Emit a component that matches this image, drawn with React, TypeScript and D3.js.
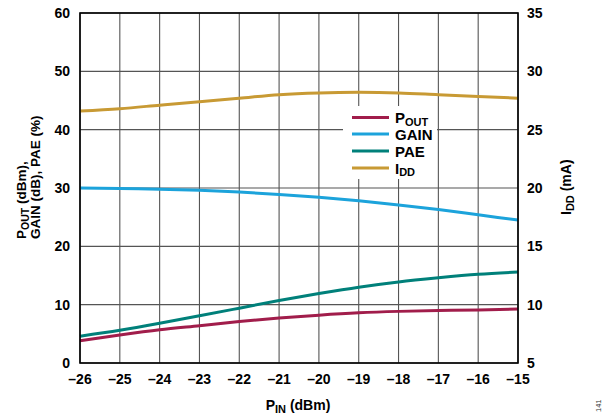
import React from "react";
import * as d3 from "d3";

const pin = [-26, -25, -24, -23, -22, -21, -20, -19, -18, -17, -16, -15];
const pout = [3.8, 4.8, 5.7, 6.4, 7.1, 7.7, 8.2, 8.6, 8.85, 9.0, 9.1, 9.25];
const gain = [30.0, 29.9, 29.8, 29.6, 29.3, 28.9, 28.4, 27.8, 27.1, 26.3, 25.4, 24.5];
const pae = [4.6, 5.6, 6.8, 8.1, 9.4, 10.7, 11.9, 13.0, 13.9, 14.6, 15.2, 15.6];
const idd = [26.6, 26.8, 27.1, 27.4, 27.7, 28.0, 28.15, 28.2, 28.15, 28.0, 27.85, 27.7];
const leftTicks = [0, 10, 20, 30, 40, 50, 60];
const rightTicks = [5, 10, 15, 20, 25, 30, 35];
const xTicks = [-26, -25, -24, -23, -22, -21, -20, -19, -18, -17, -16, -15];

const colors = { pout: "#a11d4b", gain: "#1ca3db", pae: "#00807a", idd: "#c89a34" };

export default function App() {
  const W = 602, H = 418;
  const L = 80, R = 518, T = 13, B = 363;
  const x = d3.scaleLinear().domain([-26, -15]).range([L, R]);
  const yl = d3.scaleLinear().domain([0, 60]).range([B, T]);
  const yr = d3.scaleLinear().domain([5, 35]).range([B, T]);
  const font = "'Liberation Sans', Arial, sans-serif";
  const lineL = (vals: number[]) =>
    d3.line<number>().x((_, i) => x(pin[i])).y((v) => yl(v)).curve(d3.curveMonotoneX)(vals) || "";
  const lineR = (vals: number[]) =>
    d3.line<number>().x((_, i) => x(pin[i])).y((v) => yr(v)).curve(d3.curveMonotoneX)(vals) || "";

  const legend = [
    { key: "pout", main: "P", sub: "OUT", y: 117.5 },
    { key: "gain", main: "GAIN", sub: "", y: 134 },
    { key: "pae", main: "PAE", sub: "", y: 151 },
    { key: "idd", main: "I", sub: "DD", y: 168 },
  ];

  return (
    <svg width={W} height={H} style={{ position: "absolute", left: 0, top: 0 }} fontFamily={font}>
      <rect width={W} height={H} fill="#fff" />
      {/* grid */}
      {xTicks.map((t) => (
        <line key={"gx" + t} x1={x(t)} x2={x(t)} y1={T} y2={B} stroke="#555" strokeWidth={1.1} />
      ))}
      {leftTicks.map((t) => (
        <line key={"gy" + t} x1={L} x2={R} y1={yl(t)} y2={yl(t)} stroke="#555" strokeWidth={1.1} />
      ))}
      {/* legend background */}
      <rect x={343} y={106} width={94} height={73} fill="#fff" />
      {/* series */}
      <path d={lineR(idd)} fill="none" stroke={colors.idd} strokeWidth={3} />
      <path d={lineL(gain)} fill="none" stroke={colors.gain} strokeWidth={3} />
      <path d={lineL(pae)} fill="none" stroke={colors.pae} strokeWidth={3} />
      <path d={lineL(pout)} fill="none" stroke={colors.pout} strokeWidth={3} />
      {/* frame */}
      <rect x={L} y={T} width={R - L} height={B - T} fill="none" stroke="#000" strokeWidth={1.6} />
      {/* tick labels */}
      {leftTicks.map((t) => (
        <text key={"ly" + t} x={70} y={yl(t) + 5} textAnchor="end" fontSize={14} fontWeight="bold">{t}</text>
      ))}
      {rightTicks.map((t) => (
        <text key={"ry" + t} x={527} y={yr(t) + 5} textAnchor="start" fontSize={14} fontWeight="bold">{t}</text>
      ))}
      {xTicks.map((t) => (
        <text key={"tx" + t} x={x(t)} y={384} textAnchor="middle" fontSize={14} fontWeight="bold">{"\u2013" + Math.abs(t)}</text>
      ))}
      {/* legend */}
      {legend.map((d) => (
        <g key={d.key}>
          <line x1={352} x2={389} y1={d.y} y2={d.y} stroke={(colors as any)[d.key]} strokeWidth={3} />
          <text x={395} y={d.y + 5.5} fontSize={15} fontWeight="bold">
            {d.main}
            {d.sub && <tspan fontSize={11} dy={2.5}>{d.sub}</tspan>}
          </text>
        </g>
      ))}
      {/* axis titles */}
      <text x={298} y={410} textAnchor="middle" fontSize={14} fontWeight="bold">
        P<tspan fontSize={11} dy={3}>IN</tspan><tspan dy={-3}> (dBm)</tspan>
      </text>
      <g transform="translate(26,239) rotate(-90)">
        <text x={0} y={0} textAnchor="start" fontSize={13.5} fontWeight="bold">
          P<tspan fontSize={10.5} dy={2.5}>OUT</tspan><tspan dy={-2.5}> (dBm),</tspan>
        </text>
        <text x={0} y={14} textAnchor="start" fontSize={13.5} fontWeight="bold">GAIN (dB), PAE (%)</text>
      </g>
      <g transform="translate(571,215) rotate(-90)">
        <text x={0} y={0} textAnchor="start" fontSize={14} fontWeight="bold">
          I<tspan fontSize={11} dy={3}>DD</tspan><tspan dy={-3}> (mA)</tspan>
        </text>
      </g>
      <g transform="translate(601,412) rotate(-90)">
        <text x={0} y={0} fontSize={7.5} fill="#333">141</text>
      </g>
    </svg>
  );
}
